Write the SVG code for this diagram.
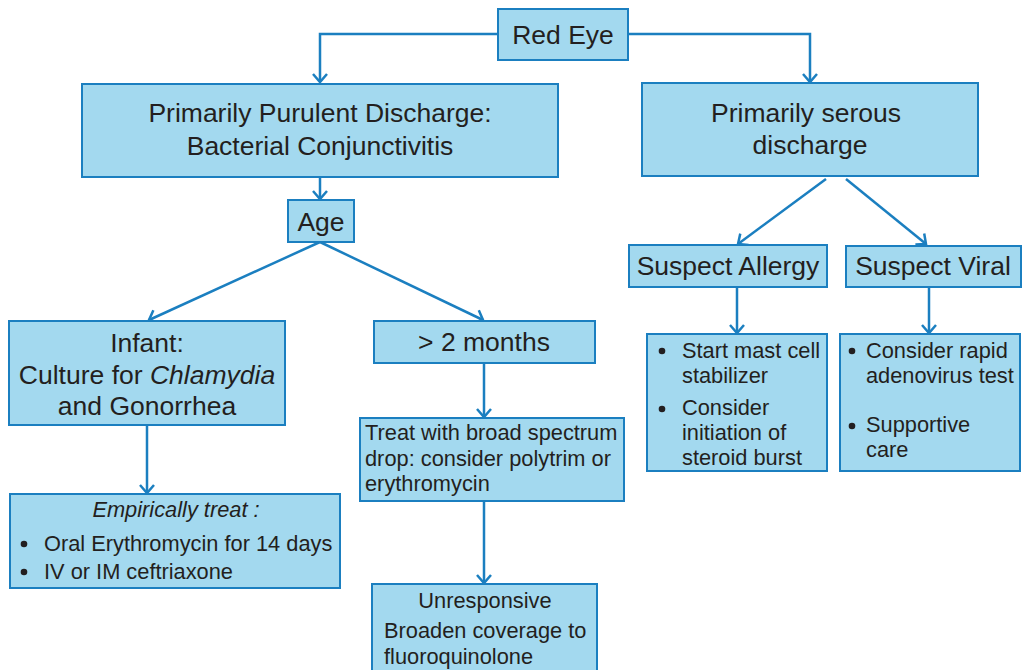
<svg xmlns="http://www.w3.org/2000/svg" width="1023" height="670" viewBox="0 0 1023 670">
<style>
.box{fill:#a3d9ef;stroke:#1b7fc0;stroke-width:2}
.t{font-family:"Liberation Sans",Arial,sans-serif;fill:#231f20}
.l{font-size:26.5px}
.s{font-size:21.8px}
.c{text-anchor:middle}
.conn{fill:none;stroke:#1b7fc0;stroke-width:2.5}
.b{fill:#231f20}
</style>
<defs>
<marker id="ah" markerUnits="userSpaceOnUse" markerWidth="20" markerHeight="20" refX="10" refY="10" orient="auto" viewBox="0 0 20 20">
<path d="M2,3 L10,10 L2,17" fill="none" stroke="#1b7fc0" stroke-width="2.5"/>
</marker>
</defs>
<rect width="1023" height="670" fill="#fff"/>
<g id="connectors" class="conn">
<polyline points="498,34 320,34 320,82" marker-end="url(#ah)"/>
<polyline points="628,34 810,34 810,82" marker-end="url(#ah)"/>
<line x1="320" y1="177" x2="320" y2="199" marker-end="url(#ah)"/>
<line x1="320" y1="242" x2="149" y2="320" marker-end="url(#ah)"/>
<line x1="320" y1="242" x2="483" y2="320" marker-end="url(#ah)"/>
<line x1="147" y1="425" x2="147" y2="493" marker-end="url(#ah)"/>
<line x1="484" y1="363" x2="484" y2="417" marker-end="url(#ah)"/>
<line x1="484" y1="501" x2="484" y2="583" marker-end="url(#ah)"/>
<line x1="826" y1="179" x2="738" y2="244" marker-end="url(#ah)"/>
<line x1="846" y1="179" x2="926" y2="244" marker-end="url(#ah)"/>
<line x1="737" y1="287" x2="737" y2="333" marker-end="url(#ah)"/>
<line x1="929" y1="288" x2="929" y2="333" marker-end="url(#ah)"/>
</g>
<g id="red-eye">
<rect class="box" x="498" y="9" width="130" height="51"/>
<text class="t l c" x="563" y="44">Red Eye</text>
</g>
<g id="purulent">
<rect class="box" x="82" y="84" width="476" height="93"/>
<text class="t l c" x="320" y="122">Primarily Purulent Discharge:</text>
<text class="t l c" x="320" y="155">Bacterial Conjunctivitis</text>
</g>
<g id="serous">
<rect class="box" x="642" y="83" width="336" height="93"/>
<text class="t l c" x="806" y="122">Primarily serous</text>
<text class="t l c" x="810" y="154">discharge</text>
</g>
<g id="age">
<rect class="box" x="288" y="200" width="66" height="42"/>
<text class="t l c" x="321" y="231">Age</text>
</g>
<g id="infant">
<rect class="box" x="9" y="321" width="276" height="104"/>
<text class="t l c" x="147" y="352">Infant:</text>
<text class="t l c" x="147" y="384">Culture for <tspan font-style="italic">Chlamydia</tspan></text>
<text class="t l c" x="147" y="415">and Gonorrhea</text>
</g>
<g id="empirical">
<rect class="box" x="10" y="494" width="330" height="94"/>
<text class="t s c" x="176" y="517" font-style="italic">Empirically treat :</text>
<circle class="b" cx="24" cy="544" r="3.3"/>
<text class="t s" x="44" y="551">Oral Erythromycin for 14 days</text>
<circle class="b" cx="24" cy="572" r="3.3"/>
<text class="t s" x="44" y="579">IV or IM ceftriaxone</text>
</g>
<g id="over-2-months">
<rect class="box" x="374" y="321" width="221" height="42"/>
<text class="t l c" x="484" y="351">&gt; 2 months</text>
</g>
<g id="treat-broad">
<rect class="box" x="360" y="418" width="264" height="83"/>
<text class="t s" x="365" y="440">Treat with broad spectrum</text>
<text class="t s" x="365" y="466">drop: consider polytrim or</text>
<text class="t s" x="365" y="491">erythromycin</text>
</g>
<g id="unresponsive">
<rect class="box" x="372" y="584" width="225" height="100"/>
<text class="t s c" x="485" y="608">Unresponsive</text>
<text class="t s" x="384" y="638">Broaden coverage to</text>
<text class="t s" x="384" y="664">fluoroquinolone</text>
</g>
<g id="suspect-allergy">
<rect class="box" x="629" y="245" width="198" height="42"/>
<text class="t l c" x="728" y="275">Suspect Allergy</text>
</g>
<g id="suspect-viral">
<rect class="box" x="846" y="246" width="175" height="41"/>
<text class="t l c" x="933" y="275">Suspect Viral</text>
</g>
<g id="allergy-actions">
<rect class="box" x="647" y="334" width="180" height="137"/>
<circle class="b" cx="662" cy="351" r="3.3"/>
<text class="t s" x="682" y="358">Start mast cell</text>
<text class="t s" x="682" y="383">stabilizer</text>
<circle class="b" cx="662" cy="409" r="3.3"/>
<text class="t s" x="682" y="415">Consider</text>
<text class="t s" x="682" y="440">initiation of</text>
<text class="t s" x="682" y="465">steroid burst</text>
</g>
<g id="viral-actions">
<rect class="box" x="840" y="334" width="180" height="137"/>
<circle class="b" cx="852" cy="351" r="3.3"/>
<text class="t s" x="866" y="358">Consider rapid</text>
<text class="t s" x="866" y="383">adenovirus test</text>
<circle class="b" cx="852" cy="426" r="3.3"/>
<text class="t s" x="866" y="432">Supportive</text>
<text class="t s" x="866" y="457">care</text>
</g>
</svg>
